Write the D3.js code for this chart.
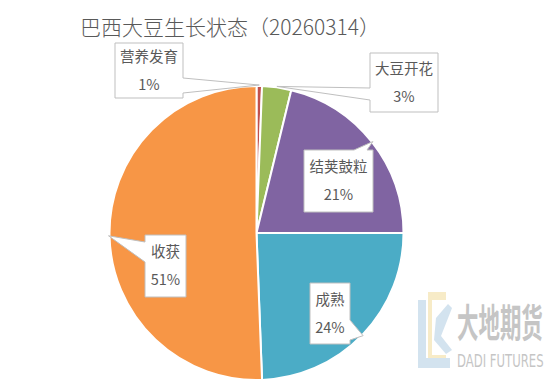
<!DOCTYPE html>
<html><head><meta charset="utf-8">
<script src="https://cdn.jsdelivr.net/npm/d3@7"></script>
<style>
html,body{margin:0;padding:0;background:#fff;}
svg{display:block;}
</style></head>
<body>
<svg id="chart" width="550" height="383"></svg>
<script>
const title = "巴西大豆生长状态（20260314）";
const categories = ["营养发育", "大豆开花", "结荚鼓粒", "成熟", "收获"];
const values = [0.6, 3.2, 21.2, 24.4, 50.6];
const colors = ["#C0504D", "#9BBB59", "#8064A2", "#4BACC6", "#F79646"];

// callout layout (box geometry + pointer base), kept separate from data
const callouts = [
  {x0:115, y0:43, x1:183, y1:98, side:"right", b1:78, b2:93},
  {x0:370, y0:53, x1:438, y1:112, side:"left", b1:100, b2:88},
  {x0:304, y0:150, x1:373, y1:212, side:"top", b1:354, b2:367},
  {x0:310, y0:283, x1:350, y1:344, side:"right", b1:320, b2:340},
  {x0:145, y0:235, x1:186, y1:297, side:"left", b1:262, b2:242}
];

const svg = d3.select("#chart");
const cx = 256.5, cy = 233, R = 147;

svg.append("text").attr("x", 80).attr("y", 35)
  .attr("font-family", "'Noto Sans CJK SC', sans-serif").attr("font-weight", 300)
  .attr("font-size", 21).attr("fill", "#595959").text(title);

// watermark
const wm = svg.append("g").attr("opacity", 0.5);
wm.append("path").attr("d", "M428,292 L446,292 L446,300 L432,300 L432,355 L446,355 L446,364 L428,364 Z").attr("fill", "#f0d890");
wm.append("path").attr("d", "M418,300 L426,300 L426,358 L450,358 L450,368 L418,368 Z").attr("fill", "#a9c8e0");
wm.append("path").attr("d", "M436,318 L448,304 L452,308 L441,336 L452,350 L446,354 L434,340 Z").attr("fill", "#a9c8e0");
wm.append("text").attr("transform", "translate(457,337) scale(0.55,1)").attr("font-size", 39).attr("font-weight", "bold")
  .attr("font-family", "'Noto Sans CJK SC', sans-serif").attr("fill", "#8c8c8c").text("大地期货");
wm.append("text").attr("transform", "translate(457,367) scale(0.72,1)").attr("font-size", 18)
  .attr("font-family", "'DejaVu Sans Condensed', 'DejaVu Sans', sans-serif").attr("fill", "#8c8c8c").text("DADI FUTURES");

const pie = d3.pie().sort(null).value(d => d)(values);
const arc = d3.arc().innerRadius(0).outerRadius(R);
const g = svg.append("g").attr("transform", `translate(${cx},${cy})`);
g.selectAll("path").data(pie).join("path")
  .attr("d", arc).attr("fill", (d, i) => colors[i])
  .attr("stroke", "#fff").attr("stroke-width", 2).attr("stroke-linejoin", "round");

const total = d3.sum(values);
function calloutPath(c, tip) {
  const {x0, y0, x1, y1, side, b1, b2} = c;
  const pts = [[x0, y0]];
  if (side === "top") pts.push([b1, y0], tip, [b2, y0]);
  pts.push([x1, y0]);
  if (side === "right") pts.push([x1, b1], tip, [x1, b2]);
  pts.push([x1, y1]);
  if (side === "bottom") pts.push([b1, y1], tip, [b2, y1]);
  pts.push([x0, y1]);
  if (side === "left") pts.push([x0, b1], tip, [x0, b2]);
  return "M" + pts.map(p => p.join(",")).join("L") + "Z";
}
const lab = svg.append("g");
pie.forEach((d, i) => {
  const c = callouts[i];
  const a = (d.startAngle + d.endAngle) / 2;
  const tip = [cx + (R + 1) * Math.sin(a), cy - (R + 1) * Math.cos(a)];
  lab.append("path").attr("d", calloutPath(c, tip))
    .attr("fill", "#fff").attr("stroke", "#bfbfbf").attr("stroke-width", 1);
  const mx = (c.x0 + c.x1) / 2, my = (c.y0 + c.y1) / 2;
  const t = lab.append("text").attr("text-anchor", "middle")
    .attr("font-family", "'Noto Sans CJK SC', sans-serif").attr("font-size", 14.5).attr("fill", "#595959");
  t.append("tspan").attr("x", mx).attr("y", my - 14).attr("dy", "0.35em").text(categories[i]);
  t.append("tspan").attr("x", mx).attr("y", my + 14).attr("dy", "0.35em").text(Math.round(values[i] / total * 100) + "%");
});
</script>
</body></html>
